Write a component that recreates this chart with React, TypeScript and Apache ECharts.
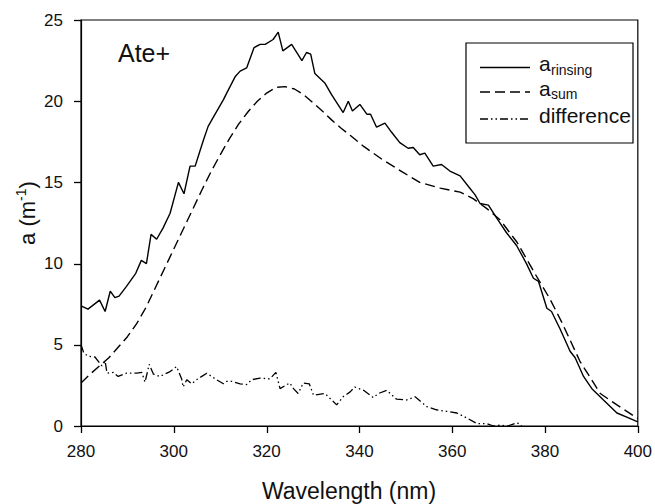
import React, { useEffect, useRef } from "react";
import * as echarts from "echarts";

const rinsingNm = [280, 281.5, 284, 285.2, 286.3, 287.3, 288.2, 289.8, 291.8, 293, 294.1, 295.1, 296.3, 297.7, 299.2, 301, 302.2, 303.5, 304.6, 305.6, 306.5, 307.4, 308.5, 310.7, 311.4, 313.2, 314.3, 315.7, 317.3, 318.6, 319.7, 321.4, 322.5, 323.5, 325.4, 327.6, 328.6, 329.5, 330.4, 332.6, 334, 336.5, 337.6, 338.5, 340.1, 341.6, 342.4, 343.7, 345.5, 346.9, 348.7, 350.5, 351.6, 353, 354.1, 355.9, 357.7, 359.5, 361.7, 363.5, 364.9, 366, 367.8, 369.6, 371.7, 373.9, 376, 377.5, 378.6, 380.4, 381.4, 383.2, 385.4, 386.5, 388.3, 390.1, 392.6, 395.5, 398, 400];
const rinsingA = [7.4, 7.2, 7.75, 7.05, 8.3, 7.9, 8.0, 8.6, 9.4, 10.2, 10.0, 11.8, 11.5, 12.2, 13.1, 15.0, 14.3, 16.0, 16.0, 16.9, 17.7, 18.45, 19.0, 20.1, 20.5, 21.5, 21.85, 22.05, 23.3, 23.5, 23.5, 23.8, 24.25, 23.1, 23.5, 22.5, 23.0, 22.9, 21.7, 21.1, 20.4, 19.3, 20.0, 19.4, 19.8, 19.2, 19.2, 18.4, 18.65, 18.1, 17.45, 17.1, 17.15, 16.7, 16.8, 16.0, 16.1, 15.7, 15.4, 14.75, 14.25, 13.7, 13.6, 12.8, 11.9, 11.1, 10.0, 9.1, 8.9, 7.25, 7.05, 6.0, 4.6, 4.2, 3.05, 2.3, 1.6, 0.8, 0.5, 0.25];

const sumNm = [280, 282, 284, 286, 288, 290, 292, 294, 296, 298, 300, 302, 304, 306, 308, 310, 312, 314, 316, 318, 320, 322, 324, 326, 328, 330, 332, 334, 336, 338, 341, 345, 349.5, 353, 357.4, 361.7, 364.5, 367.4, 370.3, 374, 377.8, 381.1, 383.6, 387.5, 391.9, 395.5, 400];
const sumA = [2.65, 3.2, 3.7, 4.2, 4.85, 5.5, 6.3, 7.3, 8.5, 9.7, 10.9, 12.1, 13.3, 14.5, 15.65, 16.7, 17.7, 18.6, 19.35, 20.0, 20.5, 20.85, 20.9, 20.75, 20.4, 19.9, 19.4, 18.85, 18.35, 17.9, 17.2, 16.4, 15.6, 15.0, 14.65, 14.4, 14.0, 13.4, 12.7, 11.3, 9.4, 7.8, 6.4, 4.0, 2.0, 1.3, 0.45];

const diffNm = [280, 280.6, 281.5, 283, 284.5, 285.2, 285.6, 287, 288, 289.8, 292, 293.1, 293.8, 294.7, 295.6, 297, 299.2, 300.6, 301.7, 302, 302.8, 303.9, 304.9, 307.1, 309.2, 310.7, 311.4, 312.5, 314.3, 315.7, 316.8, 318.6, 320.7, 322, 322.9, 325, 325.8, 326.8, 327.9, 329.2, 330.1, 332.6, 335.1, 336.5, 338, 339, 340.9, 343, 344.1, 345.9, 348, 350.2, 352, 354.5, 356.6, 358.8, 361, 363.1, 365.3, 367.4, 368.9, 370.3, 372, 374, 375];
const diffA = [5.0, 4.5, 4.3, 4.25, 3.7, 4.0, 3.25, 3.3, 3.05, 3.25, 3.25, 3.3, 2.7, 3.8, 3.2, 3.05, 3.35, 3.66, 2.9, 2.4, 2.85, 2.6, 2.85, 3.25, 2.85, 2.6, 2.75, 2.75, 2.6, 2.55, 2.85, 2.95, 2.9, 3.3, 2.3, 2.65, 2.3, 2.0, 2.65, 2.6, 1.9, 2.0, 1.3, 1.8, 2.1, 2.4, 2.2, 1.75, 2.0, 2.2, 1.65, 1.6, 1.8, 1.2, 1.0, 0.9, 0.8, 0.5, 0.15, 0.15, 0.0, 0.05, 0.0, 0.2, 0.0];

const xTicks = [280, 300, 320, 340, 360, 380, 400];
const yTicks = [0, 5, 10, 15, 20, 25];

const FONT = "'Liberation Sans', Arial, Helvetica, sans-serif";
const INK = "#111";

const zip = (xs: number[], ys: number[]) => xs.map((x, i) => [x, ys[i]]);

export default function App() {
  const ref = useRef<HTMLDivElement>(null);
  useEffect(() => {
    if (!ref.current) return;
    const chart = echarts.init(ref.current, null, { renderer: "svg" });
    const line = { show: true, onZero: false, lineStyle: { color: "#000", width: 1.2 } };

    chart.setOption({
      animation: false,
      backgroundColor: "#fff",
      grid: {
        left: 81,
        right: 16,
        top: 20,
        bottom: 78,
        show: true,
        borderColor: "#000",
        borderWidth: 1.2,
        containLabel: false,
      },
      xAxis: {
        type: "value",
        min: xTicks[0],
        max: xTicks[xTicks.length - 1],
        interval: 20,
        axisLine: line,
        axisTick: { show: false },
        splitLine: { show: false },
        axisLabel: { show: true, color: INK, fontSize: 17, fontFamily: FONT, margin: 17 },
      },
      yAxis: {
        type: "value",
        min: yTicks[0],
        max: yTicks[yTicks.length - 1],
        interval: 5,
        axisLine: line,
        axisTick: { show: false },
        splitLine: { show: false },
        axisLabel: { show: true, color: INK, fontSize: 17, fontFamily: FONT, margin: 18 },
      },
      series: [
        {
          name: "a rinsing",
          type: "line",
          data: zip(rinsingNm, rinsingA),
          symbol: "none",
          lineStyle: { color: "#000", width: 1.4, type: "solid" },
          clip: true,
        },
        {
          name: "a sum",
          type: "line",
          data: zip(sumNm, sumA),
          symbol: "none",
          lineStyle: { color: "#000", width: 1.4, type: [10, 5] },
          clip: true,
        },
        {
          name: "difference",
          type: "line",
          data: zip(diffNm, diffA),
          symbol: "none",
          lineStyle: { color: "#000", width: 1.3, type: [8, 3, 1.5, 3, 1.5, 3] },
          clip: true,
        },
      ],
    });

    // axis geometry from the library's own scales
    const px = (v: number) => Number(chart.convertToPixel({ xAxisIndex: 0 }, v));
    const py = (v: number) => Number(chart.convertToPixel({ yAxisIndex: 0 }, v));
    const x0 = px(xTicks[0]);
    const y0 = py(yTicks[0]);
    const yTop = py(yTicks[yTicks.length - 1]);

    const graphics: any[] = [];
    xTicks.forEach((v) => {
      const x = Math.round(px(v)) + 0.5;
      graphics.push({
        type: "polyline",
        shape: { points: [[x, y0], [x, y0 + 7]] },
        style: { stroke: "#000", lineWidth: 1.3, fill: null },
        z: 60,
      });
    });
    yTicks.forEach((v) => {
      const y = Math.round(py(v)) + 0.5;
      graphics.push({
        type: "polyline",
        shape: { points: [[x0 - 7, y], [x0, y]] },
        style: { stroke: "#000", lineWidth: 1.3, fill: null },
        z: 60,
      });
    });

    // axis titles
    graphics.push({
      type: "text",
      x: 349,
      y: 491,
      style: {
        text: "Wavelength (nm)",
        fontSize: 23,
        fontFamily: FONT,
        fill: INK,
        align: "center",
        verticalAlign: "middle",
      },
      z: 50,
    });
    graphics.push({
      type: "text",
      x: 27,
      y: (y0 + yTop) / 2 - 10,
      rotation: Math.PI / 2,
      style: {
        text: "{n|a (m}{sup|-1}{n|)}",
        fill: INK,
        align: "center",
        verticalAlign: "middle",
        rich: {
          n: { fontSize: 22, fontFamily: FONT, fill: INK, lineHeight: 26 },
          sup: { fontSize: 14, fontFamily: FONT, fill: INK, lineHeight: 26, verticalAlign: "top", padding: [0, 0, 10, 0] },
        },
      },
      z: 50,
    });

    // panel label
    graphics.push({
      type: "text",
      left: 118,
      top: 40,
      style: { text: "Ate+", fontSize: 25, fontFamily: FONT, fill: INK },
      z: 100,
    });

    // legend
    const legendRows = [
      { y: 67.5, dash: null as any, main: "a", sub: "rinsing" },
      { y: 92, dash: [10, 5], main: "a", sub: "sum" },
      { y: 119, dash: [8, 3, 1.5, 3, 1.5, 3], main: "difference", sub: "" },
    ];
    graphics.push({
      type: "rect",
      shape: { x: 466, y: 43, width: 167, height: 100 },
      style: { fill: "#fff", stroke: "#000", lineWidth: 1.2 },
      z: 100,
    });
    legendRows.forEach((r) => {
      graphics.push({
        type: "line",
        shape: { x1: 480, y1: r.y, x2: 530, y2: r.y },
        style: { stroke: "#000", lineWidth: 1.3, lineDash: r.dash || undefined },
        z: 101,
      });
      graphics.push({
        type: "text",
        x: 539,
        y: r.y - 4,
        style: {
          text: r.main,
          fontSize: 21,
          fontFamily: FONT,
          fill: INK,
          verticalAlign: "middle",
        },
        z: 101,
      });
      if (r.sub) {
        graphics.push({
          type: "text",
          x: 551,
          y: r.y + 2,
          style: {
            text: r.sub,
            fontSize: 14,
            fontFamily: FONT,
            fill: INK,
            verticalAlign: "middle",
          },
          z: 101,
        });
      }
    });

    chart.setOption({ graphic: graphics });
    return () => chart.dispose();
  }, []);
  return (
    <div
      ref={ref}
      style={{ position: "fixed", left: 0, top: 0, width: 655, height: 504, background: "#fff" }}
    />
  );
}
